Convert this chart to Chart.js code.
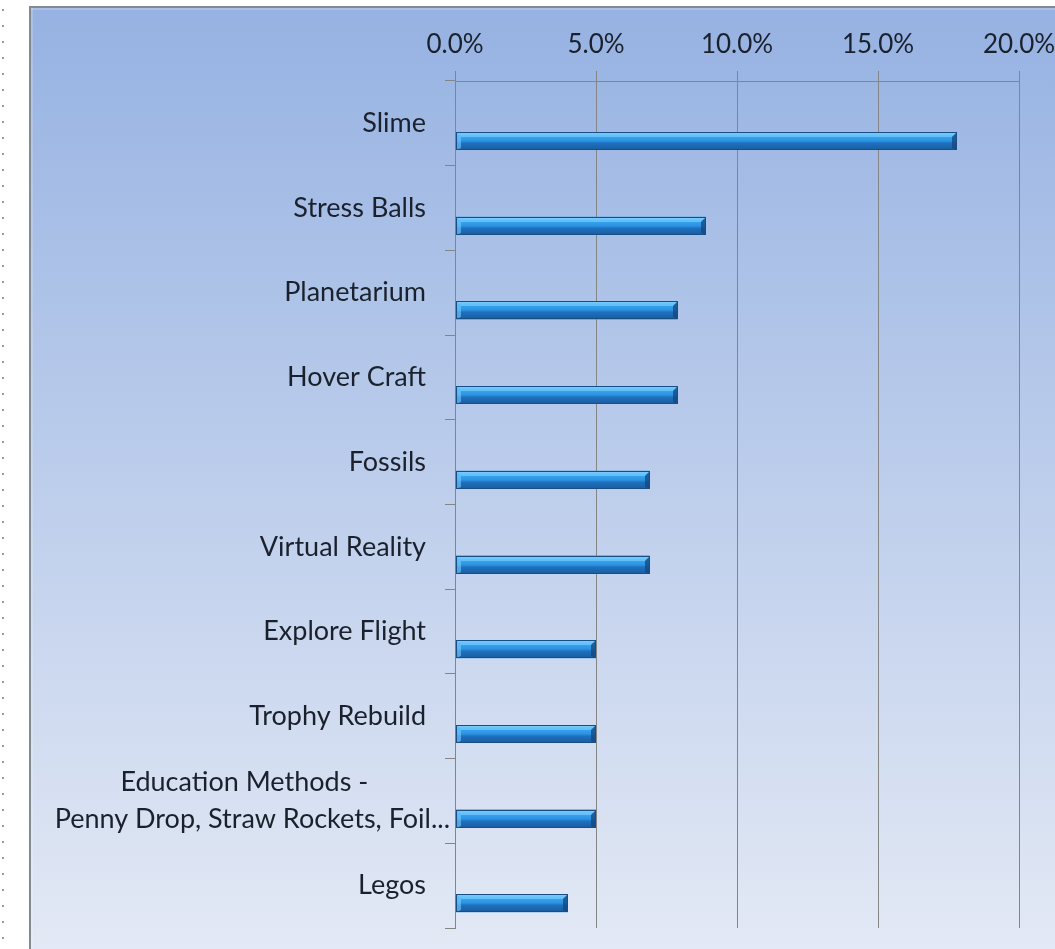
<!DOCTYPE html>
<html><head><meta charset="utf-8">
<script src="https://cdn.jsdelivr.net/npm/chart.js@4.4.1/dist/chart.umd.min.js"></script>
<style>html,body{margin:0;padding:0;background:#fff;overflow:hidden}canvas{display:block}</style>
</head><body>
<canvas id="c" width="1055" height="949"></canvas>
<script>
// ---- data ----
const categories = [
  ["Slime"],
  ["Stress Balls"],
  ["Planetarium"],
  ["Hover Craft"],
  ["Fossils"],
  ["Virtual Reality"],
  ["Explore Flight"],
  ["Trophy Rebuild"],
  ["Education Methods -", "Penny Drop, Straw Rockets, Foil..."],
  ["Legos"]
];
const shareValues = [17.8, 8.9, 7.9, 7.9, 6.9, 6.9, 5.0, 5.0, 5.0, 4.0];
const emptySeries = [null, null, null, null, null, null, null, null, null, null];
const axisMin = 0;
const axisMax = 20;
const axisStep = 5;

const FONT = 'Lato, "Open Sans", sans-serif';
const TEXT = '#1a212c';

const backgroundPlugin = {
  id: 'bg',
  beforeDraw(chart) {
    const ctx = chart.ctx, W = chart.width, H = chart.height;
    ctx.save();
    ctx.fillStyle = '#ffffff';
    ctx.fillRect(0, 0, W, H);
    ctx.fillStyle = '#9a9a9a';
    for (let y = 9; y < H; y += 16) ctx.fillRect(2, y, 2, 2);
    const g = ctx.createLinearGradient(0, 7, 0, H);
    g.addColorStop(0, '#96b2e2');
    g.addColorStop(1, '#e3e9f5');
    ctx.fillStyle = g;
    ctx.fillRect(29, 6, W - 29, H - 6);
    ctx.fillStyle = 'rgba(255,255,255,0.18)';
    ctx.fillRect(31, 8, W - 31, 2);
    ctx.fillRect(31, 8, 2, H - 8);
    ctx.fillStyle = '#858a92';
    ctx.fillRect(29, 6, W - 29, 2);
    ctx.fillRect(29, 6, 2, H - 6);
    ctx.restore();
  }
};

const barStylePlugin = {
  id: 'barStyle',
  afterDatasetsDraw(chart) {
    const ctx = chart.ctx;
    const meta = chart.getDatasetMeta(1);
    ctx.save();
    meta.data.forEach(el => {
      const p = el.getProps(['x', 'y', 'base', 'height'], true);
      const l = Math.round(p.base), r = Math.round(p.x);
      const t = Math.round(p.y - p.height / 2), b = Math.round(p.y + p.height / 2);
      const h = b - t;
      const g = ctx.createLinearGradient(0, t, 0, b);
      g.addColorStop(0, '#6cc8fb');
      g.addColorStop(0.18, '#3aa8f0');
      g.addColorStop(0.5, '#2c92e2');
      g.addColorStop(0.62, '#1f70bf');
      g.addColorStop(1, '#1a5c9e');
      ctx.fillStyle = g;
      ctx.fillRect(l, t, r - l, h);
      const bv = 5;
      ctx.fillStyle = 'rgba(140,215,255,0.55)';
      ctx.beginPath();
      ctx.moveTo(l, t); ctx.lineTo(r, t); ctx.lineTo(r - bv, t + bv); ctx.lineTo(l + bv, t + bv); ctx.closePath();
      ctx.fill();
      ctx.fillStyle = 'rgba(120,205,255,0.6)';
      ctx.beginPath();
      ctx.moveTo(l, t); ctx.lineTo(l + bv, t + bv); ctx.lineTo(l + bv, b - 2); ctx.lineTo(l, b); ctx.closePath();
      ctx.fill();
      ctx.fillStyle = 'rgba(20,70,125,0.75)';
      ctx.beginPath();
      ctx.moveTo(r, t); ctx.lineTo(r, b); ctx.lineTo(r - bv, b - 2); ctx.lineTo(r - bv, t + bv); ctx.closePath();
      ctx.fill();
      ctx.strokeStyle = '#184e86';
      ctx.lineWidth = 1;
      ctx.strokeRect(l + 0.5, t + 0.5, r - l - 1, h - 1);
    });
    ctx.restore();
  }
};

const labelPlugin = {
  id: 'catLabels',
  afterDraw(chart) {
    const ctx = chart.ctx, ys = chart.scales.y;
    ctx.save();
    ctx.font = '27px ' + FONT;
    ctx.fillStyle = TEXT;
    ctx.textBaseline = 'middle';
    ctx.textAlign = 'center';
    categories.forEach((lines, i) => {
      const yc = ys.getPixelForValue(i);
      const widths = lines.map(s => ctx.measureText(s).width);
      const maxW = Math.max(...widths);
      const right = ys.right - (lines.length > 1 ? 5 : 29);
      const cx = right - maxW / 2;
      const lh = 37;
      lines.forEach((s, k) => {
        const y = yc + (k - (lines.length - 1) / 2) * lh;
        const shift = (lines.length > 1 && k === 0) ? -8 : 0;
        ctx.fillText(s, cx + shift, y);
      });
    });
    ctx.restore();
  }
};

new Chart(document.getElementById('c'), {
  type: 'bar',
  data: {
    labels: categories,
    datasets: [
      { label: 'spacer', data: emptySeries, backgroundColor: 'rgba(0,0,0,0)' },
      { label: 'Share', data: shareValues, backgroundColor: '#2b8fe0', borderWidth: 0 }
    ]
  },
  options: {
    indexAxis: 'y',
    responsive: false,
    animation: false,
    categoryPercentage: 0.834,
    barPercentage: 0.51,
    layout: { padding: { left: 0, top: 0, right: 36, bottom: 21 } },
    plugins: { legend: { display: false }, tooltip: { enabled: false } },
    scales: {
      x: {
        position: 'top',
        min: axisMin, max: axisMax,
        afterFit(s) { s.height = 81; s.paddingLeft = 0; s.paddingRight = 0; },
        ticks: {
          stepSize: axisStep,
          color: TEXT,
          font: { family: FONT, size: 26 },
          padding: 11,
          callback: v => v.toFixed(1) + '%'
        },
        grid: { color: '#858585', lineWidth: 1, tickLength: 10, drawTicks: true },
        border: { display: true, color: '#858585', width: 1 }
      },
      y: {
        afterFit(s) { s.width = 455; s.paddingTop = 0; s.paddingBottom = 0; },
        ticks: { display: false },
        grid: { drawOnChartArea: false, drawTicks: true, tickLength: 10, color: '#858585', offset: true },
        border: { display: true, color: '#858585', width: 1 }
      }
    }
  },
  plugins: [backgroundPlugin, barStylePlugin, labelPlugin]
});
</script>
</body></html>
